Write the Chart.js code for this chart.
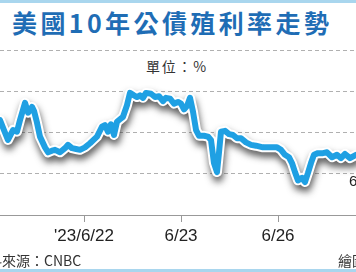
<!DOCTYPE html>
<html><head><meta charset="utf-8">
<script src="https://cdn.jsdelivr.net/npm/chart.js@4"></script>
<style>
html,body{margin:0;padding:0;width:356px;height:272px;overflow:hidden;background:#fff;font-family:"Noto Sans CJK TC","Noto Sans",sans-serif}
#wrap{position:relative;width:356px;height:272px;overflow:hidden}
#c{position:absolute;left:0;top:0}
.bar{position:absolute;left:0;width:356px;height:3px;background:#a9d6ee}
#title{position:absolute;left:12px;top:4px;white-space:nowrap;font-size:25px;font-weight:bold;color:#1f6db5;letter-spacing:3.4px;line-height:36px}
#unit{position:absolute;left:0;width:354px;top:56px;text-align:center;font-size:14px;color:#333;letter-spacing:1.8px;line-height:20px}
.foot{position:absolute;top:250px;font-size:14px;color:#333;white-space:nowrap;line-height:20px}
#note{position:absolute;left:349px;top:172px;font-size:15px;color:#222;font-family:"Liberation Sans",sans-serif;white-space:nowrap}
</style></head>
<body><div id="wrap">
<div class="bar" style="top:0"></div>
<div id="title">美國10年公債殖利率走勢</div>
<div id="unit">單位：%</div>
<canvas id="c" width="356" height="272"></canvas>
<div id="note">6/27</div>
<div class="foot" style="left:-26px">資料來源：CNBC</div>
<div class="foot" style="left:338px">繪圖：</div>
<div class="bar" style="bottom:0"></div>
</div>
<script>
// trading-day position (0 = 6/22, 1 = 6/23, 2 = 6/26)
const dayPos = [-0.866,-0.825,-0.784,-0.732,-0.691,-0.660,-0.608,-0.577,-0.536,-0.515,-0.485,-0.454,-0.402,-0.371,-0.330,-0.299,-0.247,-0.196,-0.165,-0.124,-0.082,-0.041,0.010,0.062,0.134,0.186,0.216,0.247,0.278,0.309,0.340,0.371,0.402,0.443,0.474,0.515,0.546,0.577,0.608,0.639,0.691,0.732,0.773,0.814,0.845,0.887,0.928,0.969,1.000,1.031,1.062,1.093,1.124,1.155,1.186,1.237,1.278,1.309,1.340,1.371,1.392,1.412,1.454,1.495,1.536,1.577,1.619,1.670,1.722,1.773,1.845,1.918,1.990,2.031,2.072,2.113,2.144,2.175,2.206,2.247,2.278,2.309,2.340,2.371,2.412,2.464,2.505,2.557,2.608,2.649,2.691,2.742,2.804];
// 10-year Treasury yield (%)
const yields = [3.765,3.753,3.741,3.753,3.751,3.765,3.786,3.774,3.781,3.776,3.762,3.745,3.732,3.726,3.728,3.729,3.726,3.731,3.735,3.731,3.730,3.729,3.732,3.737,3.745,3.757,3.759,3.751,3.760,3.747,3.763,3.766,3.769,3.783,3.798,3.795,3.793,3.795,3.792,3.798,3.797,3.793,3.794,3.788,3.792,3.791,3.785,3.787,3.785,3.778,3.782,3.792,3.775,3.753,3.746,3.746,3.745,3.741,3.713,3.702,3.726,3.751,3.752,3.748,3.747,3.743,3.743,3.738,3.735,3.734,3.732,3.732,3.732,3.729,3.723,3.720,3.713,3.702,3.692,3.695,3.690,3.701,3.713,3.723,3.725,3.725,3.726,3.720,3.723,3.719,3.724,3.719,3.723];
const tickDays = [0, 1, 2];
const tickLabels = ["'23/6/22", "6/23", "6/26"];
const yTicks = [3.65, 3.70, 3.75, 3.80, 3.85];

const points = dayPos.map((d, i) => ({x: d, y: yields[i]}));

const shadowPlugin = {
  id: 'lineShadow',
  beforeDatasetDraw(chart, args) {
    if (args.index === 1) {
      const c = chart.ctx; c.save();
      c.shadowColor = 'rgba(40,40,40,0.75)'; c.shadowBlur = 7; c.shadowOffsetY = 5; c.shadowOffsetX = 1;
    }
  },
  afterDatasetDraw(chart, args) { if (args.index === 1) chart.ctx.restore(); }
};

new Chart(document.getElementById('c'), {
  type: 'line',
  data: { datasets: [
    {data: points, borderColor: '#1fa0e3', borderWidth: 6, pointRadius: 0, tension: 0, borderJoinStyle: 'round', borderCapStyle: 'round'},
    {data: points, borderColor: '#ffffff', borderWidth: 10, pointRadius: 0, tension: 0, borderJoinStyle: 'round', borderCapStyle: 'round'}
  ]},
  options: {
    responsive: false, animation: false,
    layout: {padding: {top: 50, bottom: 21.6, left: 0, right: 0}},
    plugins: {legend: {display: false}, tooltip: {enabled: false}},
    scales: {
      x: {type: 'linear', min: dayPos[0], max: dayPos[dayPos.length - 1],
        afterBuildTicks: s => { s.ticks = tickDays.map(v => ({value: v})); },
        ticks: {autoSkip: false, maxRotation: 0, padding: 4, color: '#222',
          font: {family: 'Liberation Sans', size: 17},
          callback: v => tickLabels[tickDays.indexOf(v)]},
        grid: {drawOnChartArea: false, tickLength: 7, color: '#999', tickColor: '#999'},
        border: {display: true, color: '#999', width: 1}},
      y: {min: yTicks[0], max: yTicks[yTicks.length - 1],
        afterBuildTicks: s => { s.ticks = yTicks.map(v => ({value: v})); },
        ticks: {display: false},
        grid: {drawTicks: false, color: '#b0b0b0', lineWidth: 1},
        border: {display: false, dash: [4, 3]}}
    }
  },
  plugins: [shadowPlugin]
});
</script>
</body></html>
